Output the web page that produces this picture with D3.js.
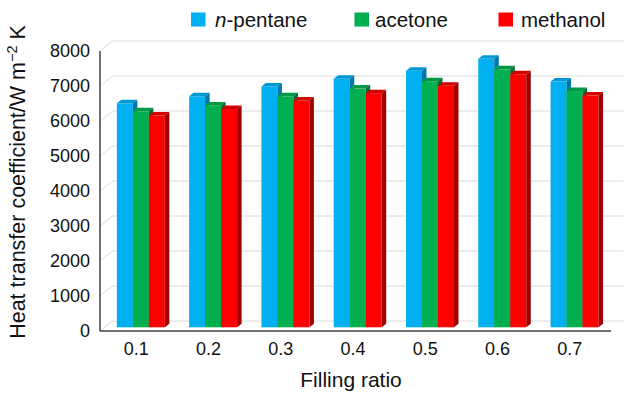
<!DOCTYPE html>
<html><head><meta charset="utf-8">
<script src="https://cdn.jsdelivr.net/npm/d3@7"></script>
<style>body{margin:0;background:#fff}svg{display:block;font-family:"Liberation Sans",Arial,Helvetica,sans-serif}</style>
</head><body><svg id="c" width="627" height="395"></svg>
<script>
const categories = ["0.1","0.2","0.3","0.4","0.5","0.6","0.7"];
const seriesNames = ["n-pentane","acetone","methanol"];
const pentane  = [6400, 6600, 6880, 7100, 7330, 7670, 7020];
const acetone  = [6170, 6340, 6600, 6820, 7030, 7370, 6750];
const methanol = [6050, 6240, 6480, 6690, 6900, 7230, 6620];
const yTicks = [0,1000,2000,3000,4000,5000,6000,7000,8000];

const seriesValues = [pentane, acetone, methanol];
const colors = [
  {front:"#00b0f0", top:"#0098d4", side:"#0077a6"},
  {front:"#00b050", top:"#009843", side:"#006e32"},
  {front:"#ff0000", top:"#d40000", side:"#a00000"}
];

const svg = d3.select("#c");
const DX = 12.6, DY = 10;      // wall depth offset
const x = d3.scaleBand().domain(categories).range([100, 606]);
const yFront = d3.scaleLinear().domain([0,8000]).range([331, 51]);
const yBack  = d3.scaleLinear().domain([0,8000]).range([321, 41]);
const yBar   = d3.scaleLinear().domain([0,8000]).range([327.3, 47.3]);
const barW = 16, bdx = 4.5, bdy = 3.5, barShift = 4.7;
const backRight = 611 + DX;

// gridlines on back wall + side wall diagonals
const grid = svg.append("g");
yTicks.forEach(t => {
  grid.append("line").attr("x1",100+DX).attr("x2",backRight)
    .attr("y1",yBack(t)).attr("y2",yBack(t)).attr("stroke","#dcdcdc").attr("stroke-width",1);
  grid.append("line").attr("x1",100).attr("y1",yFront(t))
    .attr("x2",100+DX).attr("y2",yBack(t)).attr("stroke","#dcdcdc").attr("stroke-width",1);
});

// bars
const g = svg.append("g");
categories.forEach((c,i) => {
  seriesValues.forEach((vals,j) => {
    const v = vals[i];
    const x0 = x(c) + x.bandwidth()/2 + barShift - 1.5*barW + j*barW;
    const x1 = x0 + barW;
    const yt = yBar(v), yb = yBar(0);
    const col = colors[j];
    g.append("rect").attr("x",x0).attr("y",yt).attr("width",barW).attr("height",yb-yt).attr("fill",col.front);
    g.append("path").attr("d",`M${x0},${yt}L${x0+bdx},${yt-bdy}L${x1+bdx},${yt-bdy}L${x1},${yt}Z`).attr("fill",col.top);
    g.append("path").attr("d",`M${x1},${yt}L${x1+bdx},${yt-bdy}L${x1+bdx},${yb-bdy}L${x1},${yb}Z`).attr("fill",col.side);
  });
});

// axes lines
svg.append("line").attr("x1",100).attr("x2",100).attr("y1",yFront(8000)).attr("y2",yFront(0))
  .attr("stroke","#404040").attr("stroke-width",1.5);
svg.append("line").attr("x1",100).attr("x2",611).attr("y1",yFront(0)).attr("y2",yFront(0))
  .attr("stroke","#404040").attr("stroke-width",1.5);

// y tick labels
svg.append("g").selectAll("text").data(yTicks).join("text")
  .attr("x",90).attr("y",d=>yFront(d)).attr("dy","0.35em").attr("text-anchor","end")
  .attr("font-size",18).attr("fill","#111").text(d=>d);

// x tick labels
svg.append("g").selectAll("text").data(categories).join("text")
  .attr("x",d=>x(d)+x.bandwidth()/2).attr("y",355).attr("text-anchor","middle")
  .attr("font-size",18).attr("fill","#111").text(d=>d);

// axis titles
svg.append("text").attr("x",(100+606)/2-2).attr("y",387).attr("text-anchor","middle")
  .attr("font-size",21).attr("fill","#111").text("Filling ratio");
const yt = svg.append("text").attr("transform","translate(25,182) rotate(-90)")
  .attr("text-anchor","middle").attr("font-size",21.5).attr("fill","#111");
yt.append("tspan").text("Heat transfer coefficient/W m");
yt.append("tspan").attr("font-size",14.5).attr("dy",-8).text("\u22122");
yt.append("tspan").attr("dy",8).text(" K");

// legend
const legX = [191, 354.5, 498.5];
const legT = [215, 375, 521];
seriesNames.forEach((n,j)=>{
  svg.append("rect").attr("x",legX[j]).attr("y",12.5).attr("width",14.5).attr("height",14)
    .attr("fill",colors[j].front);
  const t = svg.append("text").attr("x",legT[j]).attr("y",27).attr("font-size",20.5).attr("fill","#111");
  if (n.startsWith("n-")) {
    t.append("tspan").attr("font-style","italic").text("n");
    t.append("tspan").text(n.slice(1));
  } else t.text(n);
});
</script></body></html>
